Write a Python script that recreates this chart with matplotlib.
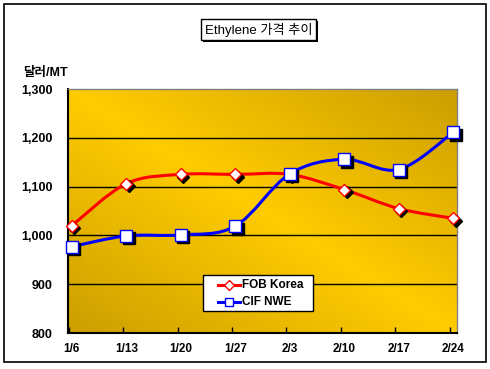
import numpy as np
import matplotlib
matplotlib.use("Agg")
import matplotlib.pyplot as plt
from matplotlib.path import Path
from matplotlib.patches import PathPatch, Rectangle
from matplotlib.lines import Line2D
from matplotlib.transforms import ScaledTranslation

plt.rcParams['font.family'] = ['Liberation Sans', 'Noto Sans CJK KR']

# data
dates = ['1/6', '1/13', '1/20', '1/27', '2/3', '2/10', '2/17', '2/24']
fob_korea = [1020, 1106, 1125, 1125, 1125, 1094, 1055, 1035]
cif_nwe = [977, 999, 1001, 1019, 1126, 1156, 1135, 1211]
yticks = [800, 900, 1000, 1100, 1200, 1300]

W, H = 490, 369
fig = plt.figure(figsize=(W / 100, H / 100), dpi=100)
ax = fig.add_axes([68 / W, 1 - 333 / H, (457 - 68) / W, (333 - 89) / H])

x = np.arange(len(dates))
ax.set_xlim(-0.07, len(dates) - 1 + 0.07)
ax.set_ylim(800, 1300)

# gradient background (bright on the diagonal, darker at two corners)
u = np.linspace(0, 1, 300)
v = np.linspace(1, 0, 200)
U, V = np.meshgrid(u, v)
t = np.abs(U + V - 1)
bright = np.array([255, 204, 0]) / 255
dark = np.array([204, 158, 0]) / 255
img = bright[None, None, :] * (1 - t[..., None]) + dark[None, None, :] * t[..., None]
ax.imshow(img, extent=[-0.07, len(dates) - 1 + 0.07, 800, 1300], aspect='auto', zorder=0)

# gridlines
for yv in [900, 1000, 1100, 1200]:
    ax.axhline(yv, color='black', lw=1.0, zorder=1)


def smooth_path(xs, ys):
    pts = np.column_stack([xs, ys]).astype(float)
    n = len(pts)
    verts = [pts[0]]
    codes = [Path.MOVETO]
    for i in range(n - 1):
        p0 = pts[max(i - 1, 0)]
        p1 = pts[i]
        p2 = pts[i + 1]
        p3 = pts[min(i + 2, n - 1)]
        c1 = p1 + (p2 - p0) / 6
        c2 = p2 - (p3 - p1) / 6
        verts += [c1, c2, p2]
        codes += [Path.CURVE4] * 3
    return Path(verts, codes)


shadow = ax.transData + ScaledTranslation(0.025, -0.025, fig.dpi_scale_trans)

series = [
    (fob_korea, 'red', 'D', 6.5, 'FOB Korea'),
    (cif_nwe, 'blue', 's', 8, 'CIF NWE'),
]
for ys, col, mk, ms, lab in series:
    ax.add_patch(PathPatch(smooth_path(x, ys), facecolor='none', edgecolor=col,
                           lw=2.2, zorder=3, capstyle='round'))
    ax.plot(x, ys, linestyle='none', marker=mk, markersize=ms, color='black',
            transform=shadow, zorder=4, clip_on=False)
    ax.plot(x, ys, linestyle='none', marker=mk, markersize=ms,
            markerfacecolor='white', markeredgecolor=col, markeredgewidth=1.0,
            zorder=5, clip_on=False)

# axes styling
for side in ['top', 'right']:
    ax.spines[side].set_color('#808080')
    ax.spines[side].set_linewidth(1.0)
for side in ['left', 'bottom']:
    ax.spines[side].set_color('black')
    ax.spines[side].set_linewidth(1.5)

ax.set_xticks(x)
ax.set_xticklabels(dates, fontsize=8.5, fontweight='bold')
ax.tick_params(axis='x', which='major', length=0, pad=7)
ax.set_xticks(x - 0.06, minor=True)
ax.tick_params(axis='x', which='minor', direction='in', length=4, width=1, color='black')
ax.set_yticks(yticks)
ax.set_yticklabels([f'{v:,}' for v in yticks], fontsize=9, fontweight='bold')
ax.tick_params(axis='y', length=0, pad=11)

# legend box drawn by hand
fig.patches.append(Rectangle((203 / W, 1 - 311 / H), 110 / W, 36 / H, transform=fig.transFigure,
                             facecolor='white', edgecolor='black', lw=1.0, zorder=10))
for (ys, col, mk, ms, lab), yp in zip(series, [285, 302]):
    fy = 1 - yp / H
    fig.lines.append(Line2D([218 / W, 240 / W], [fy, fy], transform=fig.transFigure,
                            color=col, lw=2.2, zorder=11))
    fig.lines.append(Line2D([229 / W], [fy], transform=fig.transFigure, marker=mk,
                            markersize=ms * 0.75, markerfacecolor='white',
                            markeredgecolor=col, linestyle='none', zorder=12))
    fig.text(242 / W, fy, lab, fontsize=8.5, fontweight='bold', va='center', ha='left', zorder=12)

# y unit label
fig.text(23 / W, 1 - 73 / H, '달러/MT', fontsize=9, fontweight='bold', va='center', ha='left')

# title with shadowed box
fig.patches.append(Rectangle((203 / W, 1 - 42 / H), 115 / W, 21 / H, transform=fig.transFigure,
                             facecolor='black', edgecolor='none', zorder=1))
fig.patches.append(Rectangle((201 / W, 1 - 40 / H), 115 / W, 21 / H, transform=fig.transFigure,
                             facecolor='white', edgecolor='black', lw=1.0, zorder=2))
fig.text(258.5 / W, 1 - 30 / H, 'Ethylene 가격 추이', fontsize=9.5, ha='center', va='center', zorder=3)

# outer frame
fig.patches.append(Rectangle((3.5 / W, 1 - 362 / H), 482 / W, 358 / H, transform=fig.transFigure,
                             facecolor='none', edgecolor='black', lw=1.2, zorder=5))

fig.savefig('out.png', dpi=100)
